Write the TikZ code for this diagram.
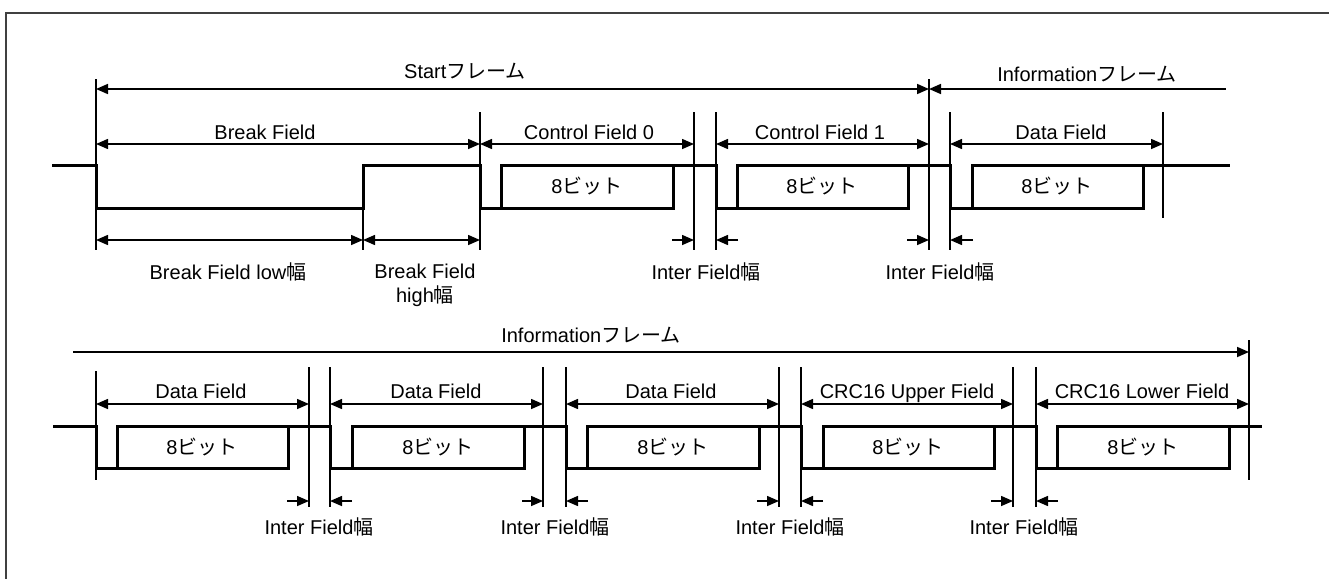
\documentclass[tikz,border=0pt]{standalone}
\usepackage{fontspec}
\setmainfont{Liberation Sans}
\newfontfamily\jp{Noto Sans CJK JP}
\usetikzlibrary{arrows.meta}
\begin{document}
\begin{tikzpicture}[x=1pt,y=-1pt,
  tick/.style={line width=1.3pt},
  tip/.tip={Triangle[length=12pt,width=10pt]},
  arr/.style={line width=1.5pt,-tip},
  larr/.style={line width=1.7pt,tip-},
  rarr/.style={line width=1.7pt,-tip},
  darr/.style={line width=1.5pt,tip-tip},
  dfarr/.style={line width=1.7pt,tip-tip},
  sig/.style={line width=3pt,line join=miter,line cap=rect},
  lbl/.style={font=\fontsize{20}{24}\selectfont,inner sep=0pt,anchor=base},
  border/.style={draw=black!75,line width=1.6pt},
]
\useasboundingbox (0,0) rectangle (1329,579);
% outer frame (only top and left edges visible)
\draw[border] (1329,13) -- (6,13) -- (6,579);

% ================= TOP ROW =================
% ticks
\draw[tick] (96,79) -- (96,250);
\draw[tick] (363,208) -- (363,250);
\draw[tick] (480,112) -- (480,250);
\draw[tick] (694,112) -- (694,250);
\draw[tick] (716,112) -- (716,250);
\draw[tick] (929,79) -- (929,250);
\draw[tick] (950,112) -- (950,250);
\draw[tick] (1163,112) -- (1163,218);

% frame arrows
\coordinate (sfL) at (96,89);
\coordinate (sfR) at (929,89);
\coordinate (ifR) at (1226,89);
\draw[dfarr] (sfL) -- (sfR);
\draw[larr] (sfR) -- (ifR);
\node[lbl] (tStart) at (465,78) {Start{\jp フレーム}};
\node[lbl] (tInfo1) at (1087,81) {Information{\jp フレーム}};

% field arrows
\coordinate (bfL) at (96,144);  \coordinate (bfR) at (480,144);
\coordinate (c0L) at (480,144); \coordinate (c0R) at (694,144);
\coordinate (c1L) at (716,144); \coordinate (c1R) at (929,144);
\coordinate (d0L) at (950,144); \coordinate (d0R) at (1163,144);
\draw[darr] (bfL) -- (bfR);
\draw[darr] (c0L) -- (c0R);
\draw[darr] (c1L) -- (c1R);
\draw[darr] (d0L) -- (d0R);
\node[lbl] (tBF) at (265,139) {Break Field};
\node[lbl] (tCF0) at (589,139) {Control Field 0};
\node[lbl] (tCF1) at (820,139) {Control Field 1};
\node[lbl] (tDF0) at (1061,139) {Data Field};

% signal
\draw[sig] (53,165) -| (96,208) -| (363,165) -| (480,208) -- (501,208);
\draw[sig] (501,165) rectangle (673,208);
\draw[sig] (673,165) -| (716,208) -- (737,208);
\draw[sig] (737,165) rectangle (908,208);
\draw[sig] (908,165) -| (950,208) -- (972,208);
\draw[sig] (972,165) rectangle (1143,208);
\draw[sig] (1143,165) -- (1228,165);
\node[lbl] (b1) at (587,193) {8{\jp ビット}};
\node[lbl] (b2) at (822,193) {8{\jp ビット}};
\node[lbl] (b3) at (1057,193) {8{\jp ビット}};

% lower dimensions
\coordinate (lwL) at (96,240); \coordinate (lwR) at (363,240); \coordinate (hwR) at (480,240);
\draw[darr] (lwL) -- (lwR);
\draw[darr] (lwR) -- (hwR);
\node[lbl] (tLow) at (228,279) {Break Field low{\jp 幅}};
\node[font=\fontsize{20}{24}\selectfont,inner sep=0pt,anchor=north,align=center] (tHigh) at (425,263.5) {Break Field\\high{\jp 幅}};

% inter field arrows (top)
\coordinate (i1a) at (672,240); \coordinate (i1b) at (694,240);
\coordinate (i1c) at (738,240); \coordinate (i1d) at (716,240);
\coordinate (i2a) at (907,240); \coordinate (i2b) at (929,240);
\coordinate (i2c) at (973,240); \coordinate (i2d) at (950,240);
\draw[arr] (i1a) -- (i1b); \draw[arr] (i1c) -- (i1d);
\draw[arr] (i2a) -- (i2b); \draw[arr] (i2c) -- (i2d);
\node[lbl] (tI1) at (706,279) {Inter Field{\jp 幅}};
\node[lbl] (tI2) at (940,279) {Inter Field{\jp 幅}};

% ================= BOTTOM ROW =================
\coordinate (bfS) at (73,352); \coordinate (bfE) at (1249,352);
\draw[rarr] (bfS) -- (bfE);
\node[lbl] (tInfo2) at (591,342) {Information{\jp フレーム}};

% ticks
\draw[tick] (96,371) -- (96,480);
\foreach \x in {309,330,543,566,779,801,1013,1036}
  \draw[tick] (\x,367) -- (\x,507);
\draw[tick] (1249,340) -- (1249,480);

% field arrows
\coordinate (e1L) at (96,404);   \coordinate (e1R) at (309,404);
\coordinate (e2L) at (330,404);  \coordinate (e2R) at (543,404);
\coordinate (e3L) at (566,404);  \coordinate (e3R) at (779,404);
\coordinate (e4L) at (801,404);  \coordinate (e4R) at (1013,404);
\coordinate (e5L) at (1036,404); \coordinate (e5R) at (1249,404);
\draw[darr] (e1L) -- (e1R);
\draw[darr] (e2L) -- (e2R);
\draw[darr] (e3L) -- (e3R);
\draw[darr] (e4L) -- (e4R);
\draw[darr] (e5L) -- (e5R);
\node[lbl] (tE1) at (201,398) {Data Field};
\node[lbl] (tE2) at (436,398) {Data Field};
\node[lbl] (tE3) at (671,398) {Data Field};
\node[lbl] (tE4) at (907,398) {CRC16 Upper Field};
\node[lbl] (tE5) at (1142,398) {CRC16 Lower Field};

% signal
\draw[sig] (54,426) -| (96,468) -- (117,468);
\draw[sig] (117,426) rectangle (288,468);
\draw[sig] (288,426) -| (330,468) -- (352,468);
\draw[sig] (352,426) rectangle (524,468);
\draw[sig] (524,426) -| (566,468) -- (587,468);
\draw[sig] (587,426) rectangle (759,468);
\draw[sig] (759,426) -| (801,468) -- (823,468);
\draw[sig] (823,426) rectangle (994,468);
\draw[sig] (994,426) -| (1036,468) -- (1057,468);
\draw[sig] (1057,426) rectangle (1229,468);
\draw[sig] (1229,426) -- (1260,426);
\node[lbl] (c1) at (202,454) {8{\jp ビット}};
\node[lbl] (c2) at (438,454) {8{\jp ビット}};
\node[lbl] (c3) at (673,454) {8{\jp ビット}};
\node[lbl] (c4) at (908,454) {8{\jp ビット}};
\node[lbl] (c5) at (1143,454) {8{\jp ビット}};

% inter field arrows (bottom)
\coordinate (j1a) at (287,501); \coordinate (j1b) at (309,501);
\coordinate (j1c) at (352,501); \coordinate (j1d) at (330,501);
\coordinate (j2a) at (522,501); \coordinate (j2b) at (543,501);
\coordinate (j2c) at (588,501); \coordinate (j2d) at (566,501);
\coordinate (j3a) at (757,501); \coordinate (j3b) at (779,501);
\coordinate (j3c) at (823,501); \coordinate (j3d) at (801,501);
\coordinate (j4a) at (991,501); \coordinate (j4b) at (1013,501);
\coordinate (j4c) at (1058,501); \coordinate (j4d) at (1036,501);
\foreach \p in {j1,j2,j3,j4} {
  \draw[arr] (\p a) -- (\p b);
  \draw[arr] (\p c) -- (\p d);
}
\node[lbl] (tJ1) at (319,534) {Inter Field{\jp 幅}};
\node[lbl] (tJ2) at (555,534) {Inter Field{\jp 幅}};
\node[lbl] (tJ3) at (790,534) {Inter Field{\jp 幅}};
\node[lbl] (tJ4) at (1024,534) {Inter Field{\jp 幅}};
\end{tikzpicture}
\end{document}
